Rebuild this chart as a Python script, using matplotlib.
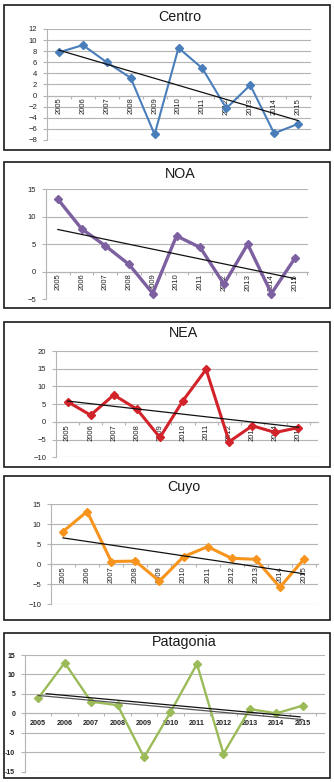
import numpy as np
import matplotlib
matplotlib.use("Agg")
import matplotlib.pyplot as plt
from matplotlib.patches import Rectangle
import matplotlib.transforms as mtransforms

plt.rcParams['font.family'] = ['Liberation Sans', 'DejaVu Sans']
plt.rcParams['axes.unicode_minus'] = True

years = ['2005', '2006', '2007', '2008', '2009', '2010', '2011', '2012', '2013', '2014', '2015']
centro = [7.8, 9.1, 6.0, 3.2, -7.0, 8.6, 4.9, -2.3, 1.9, -6.8, -5.1]
noa = [13.2, 7.8, 4.7, 1.3, -4.0, 6.5, 4.4, -2.3, 5.0, -4.0, 2.5]
nea = [5.7, 1.9, 7.6, 3.6, -4.4, 6.0, 14.8, -5.6, -1.1, -3.0, -1.6]
cuyo = [8.2, 13.2, 0.7, 0.8, -4.2, 1.9, 4.4, 1.5, 1.25, -5.75, 1.3]
patagonia = [3.9, 13.0, 3.0, 2.1, -11.3, 0.3, 12.7, -10.4, 1.1, 0.0, 2.0]

W, H = 334, 782
fig = plt.figure(figsize=(W / 100, H / 100), dpi=100)

def fr(x0, x1, ytop, ybot):
    return [x0 / W, 1 - ybot / H, (x1 - x0) / W, (ybot - ytop) / H]

panels = [
    dict(title='Centro', data=centro, color='#4A7EBB', lw=1.5, ms=3.6,
         box=(5, 150), ax=(47, 310, 311, 29, 140), ylim=(-8, 12), step=2, ty=17, tx=180, rot=True),
    dict(title='NOA', data=noa, color='#7D60A0', lw=2.4, ms=3.8,
         box=(162, 308), ax=(46, 307, 308, 189.3, 299), ylim=(-5, 15), step=5, ty=174, tx=180, rot=True),
    dict(title='NEA', data=nea, color='#D2232A', lw=2.2, ms=3.6,
         box=(322, 467), ax=(56, 310, 318, 351, 457.3), ylim=(-10, 20), step=5, ty=333, tx=184, rot=True),
    dict(title='Cuyo', data=cuyo, color='#F7941D', lw=2.2, ms=3.6,
         box=(476, 620), ax=(51, 316, 318, 504.3, 604.3), ylim=(-10, 15), step=5, ty=487, tx=184, rot=True),
    dict(title='Patagonia', data=patagonia, color='#9BBB59', lw=1.7, ms=4.0,
         box=(633, 778), ax=(25, 316, 325, 655, 771.7), ylim=(-15, 15), step=5, ty=642, tx=184, rot=False),
]

grid_c = '#B4B4B4'

for p in panels:
    y0, y1 = p['box']
    fig.patches.append(Rectangle((4 / W, 1 - y1 / H), (330 - 4) / W, (y1 - y0) / H,
                                 transform=fig.transFigure, fill=False,
                                 edgecolor='#1a1a1a', linewidth=1.2))
    fig.text(p['tx'] / W, 1 - p['ty'] / H, p['title'], ha='center', va='center',
             fontsize=10.3, color='#1a1a1a')

    x0, x1c, x1g, yt, yb = p['ax']
    n = len(years)
    spacing = (x1c - x0) / n
    extra = (x1g - x1c) / spacing
    ax = fig.add_axes(fr(x0, x1g, yt, yb))
    ax.set_xlim(-0.5, n - 0.5 + extra)
    ax.set_ylim(*p['ylim'])
    ax.set_facecolor('none')

    yt_vals = np.arange(p['ylim'][0], p['ylim'][1] + 0.001, p['step'])
    ax.set_yticks(yt_vals)
    if p['rot']:
        ax.set_yticklabels([('\u2212' if v < 0 else '') + str(int(abs(v))) for v in yt_vals],
                           fontsize=5.5, color='#222222')
    else:
        ax.set_yticklabels([str(int(v)) for v in yt_vals], fontsize=5, color='#222222',
                           fontweight='bold')
    ax.yaxis.grid(True, color=grid_c, linewidth=0.8)
    ax.set_axisbelow(True)
    ax.tick_params(axis='y', length=3, width=0.8, color=grid_c, pad=4)

    ax.set_xticks(np.arange(-0.5, n, 1.0))
    ax.set_xticklabels([])
    ax.tick_params(axis='x', length=2.5, width=0.8, color=grid_c, direction='out')

    for s in ['top', 'right']:
        ax.spines[s].set_visible(False)
    ax.spines['left'].set_color(grid_c)
    ax.spines['left'].set_linewidth(0.8)
    ax.spines['bottom'].set_position(('data', 0))
    ax.spines['bottom'].set_color(grid_c)
    ax.spines['bottom'].set_linewidth(0.8)
    ax.spines['bottom'].set_bounds(-0.5, n - 0.5 + extra)

    xs = np.arange(n)
    for i, lab in enumerate(years):
        if p['rot']:
            ax.annotate(lab, xy=(i, 0), xytext=(0, -1.5), textcoords='offset points',
                        rotation=90, ha='center', va='top', fontsize=5.5, color='#222222',
                        zorder=1.5, annotation_clip=False)
        else:
            ax.annotate(lab, xy=(i, 0), xytext=(0, -4.5), textcoords='offset points',
                        ha='center', va='top', fontsize=5.2, color='#222222', fontweight='bold',
                        zorder=1.5, annotation_clip=False)

    ax.plot(xs, p['data'], color=p['color'], lw=p['lw'], marker='D', ms=p['ms'],
            markeredgecolor=p['color'], zorder=3, clip_on=False)

    coef = np.polyfit(xs, p['data'], 1)
    tx = np.array([0, n - 1])
    if p['rot']:
        ax.plot(tx, np.polyval(coef, tx), color='#111111', lw=0.9, zorder=4)
    else:
        ax.plot(tx, np.polyval(coef, tx), color='#555555', lw=0.9, zorder=4)
        tx2 = np.array([0.3, n - 1.1])
        off = mtransforms.offset_copy(ax.transData, fig=fig, x=0, y=2.5, units='dots')
        ax.plot(tx2, np.polyval(coef, tx2), color='#111111', lw=0.9, zorder=4, transform=off)

fig.savefig('out.png', dpi=100, facecolor='white')
